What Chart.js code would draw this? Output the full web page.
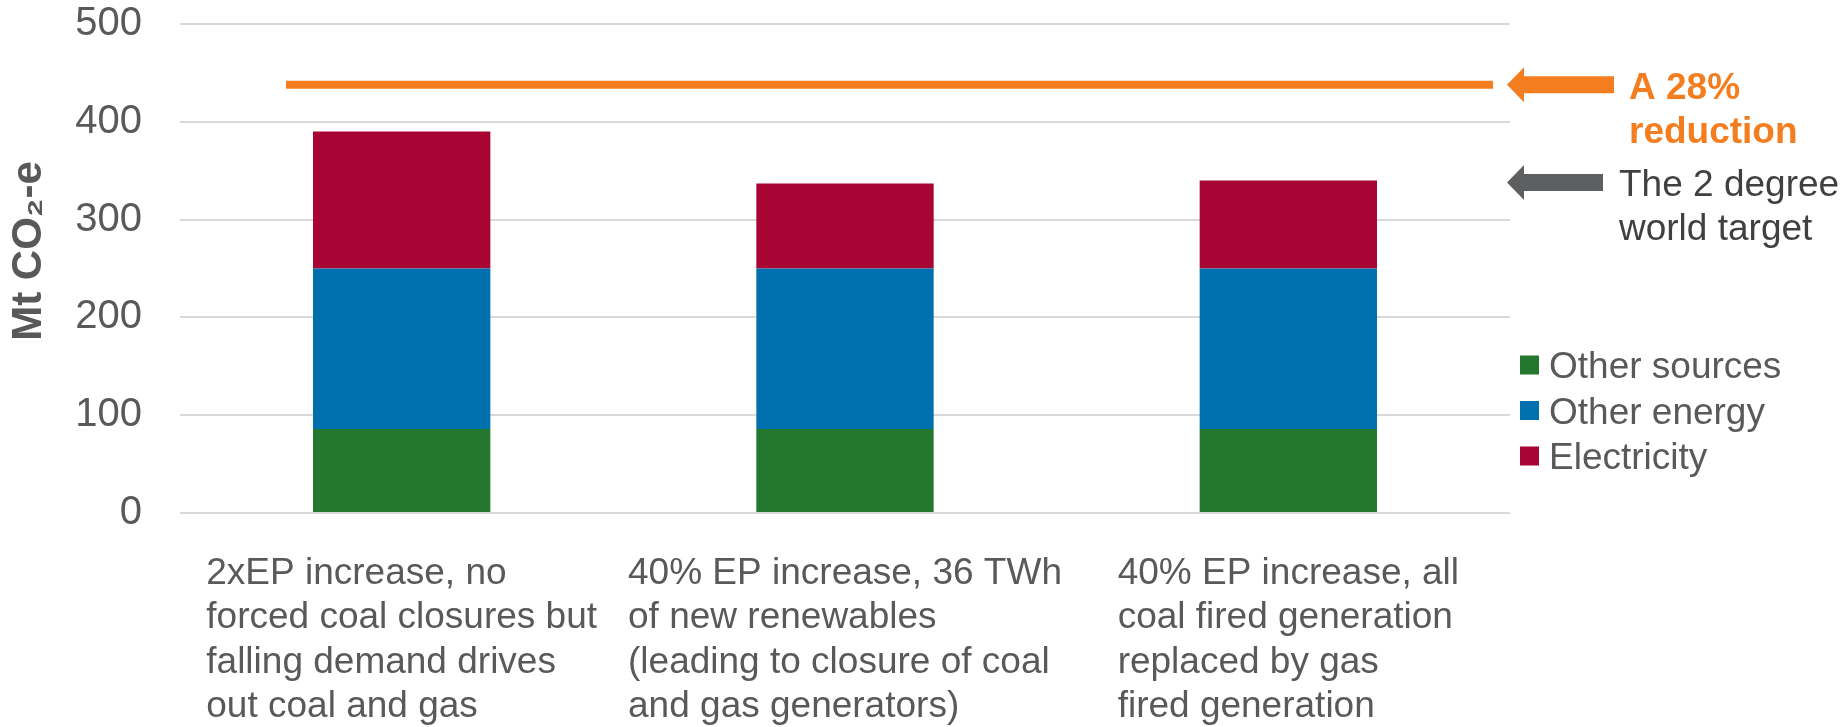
<!DOCTYPE html>
<html>
<head>
<meta charset="utf-8">
<script src="https://cdn.jsdelivr.net/npm/chart.js@4.4.1/dist/chart.umd.min.js"></script>
<style>
  html, body { margin: 0; padding: 0; background: #ffffff; }
  #wrap { width: 1845px; height: 727px; position: relative; }
</style>
</head>
<body>
<div id="wrap"><canvas id="c" width="1845" height="727"></canvas></div>
<script>
// ---- DATA ----
const categories = [
  ["2xEP increase, no", "forced coal closures but", "falling demand drives", "out coal and gas"],
  ["40% EP increase, 36 TWh", "of new renewables", "(leading to closure of coal", "and gas generators)"],
  ["40% EP increase, all", "coal fired generation", "replaced by gas", "fired generation"]
];
const otherSources = [86, 86, 86];
const otherEnergy  = [164, 164, 164];
const electricity  = [140, 87, 90];
const seriesNames  = ["Other sources", "Other energy", "Electricity"];
const yTicks       = [0, 100, 200, 300, 400, 500];
const reductionTarget = 438;   // "A 28% reduction" line
const twoDegreeTarget = 338;   // "The 2 degree world target"
const reductionLabel = ["A 28%", "reduction"];
const twoDegreeLabel = ["The 2 degree", "world target"];
const yTitle = "Mt CO\u2082-e";

// ---- STYLE ----
const FONT = '"Liberation Sans", Arial, Helvetica, sans-serif';
const GREY_TEXT = '#595959';
const DARK_TEXT = '#404040';
const ORANGE = '#F47D20';
const ARROW_GREY = '#5E5F61';
const colors = ['#23772E', '#0070AF', '#A80534'];

function drawArrow(ctx, tipX, cy, tailX, shaftH, headH, headLen, color) {
  ctx.save();
  ctx.fillStyle = color;
  ctx.beginPath();
  ctx.moveTo(tipX, cy);
  ctx.lineTo(tipX + headLen, cy - headH / 2);
  ctx.lineTo(tipX + headLen, cy - shaftH / 2);
  ctx.lineTo(tailX, cy - shaftH / 2);
  ctx.lineTo(tailX, cy + shaftH / 2);
  ctx.lineTo(tipX + headLen, cy + shaftH / 2);
  ctx.lineTo(tipX + headLen, cy + headH / 2);
  ctx.closePath();
  ctx.fill();
  ctx.restore();
}

const annotations = {
  id: 'annotations',
  afterDatasetsDraw(chart) {
    const { ctx, chartArea, scales: { x, y } } = chart;
    ctx.save();

    // reduction line
    const yr = y.getPixelForValue(reductionTarget);
    ctx.strokeStyle = ORANGE;
    ctx.lineWidth = 8;
    ctx.beginPath();
    ctx.moveTo(chartArea.left + 106, yr);
    ctx.lineTo(chartArea.right - 17, yr);
    ctx.stroke();

    // arrows
    const tip = chartArea.right - 3;
    drawArrow(ctx, tip, yr, tip + 107, 17, 35, 17, ORANGE);
    const yt = y.getPixelForValue(twoDegreeTarget);
    drawArrow(ctx, tip, yt, tip + 96, 17, 35, 17, ARROW_GREY);

    // arrow texts
    ctx.textAlign = 'left';
    ctx.textBaseline = 'alphabetic';
    ctx.font = 'bold 37px ' + FONT;
    ctx.fillStyle = ORANGE;
    reductionLabel.forEach((t, i) => ctx.fillText(t, tip + 122, yr + 14 + i * 44.5));
    ctx.font = '37px ' + FONT;
    ctx.fillStyle = DARK_TEXT;
    twoDegreeLabel.forEach((t, i) => ctx.fillText(t, tip + 112, yt + 14 + i * 43.5));

    // category labels (left-aligned lines, block centred on category)
    ctx.fillStyle = GREY_TEXT;
    ctx.font = '37px ' + FONT;
    chart.data.labels.forEach((lines, i) => {
      const cx = x.getPixelForValue(i);
      const w = Math.max(...lines.map(l => ctx.measureText(l).width));
      lines.forEach((l, j) => ctx.fillText(l, cx - w / 2, chartArea.bottom + 71 + j * 44.3));
    });

    // legend
    const lx = chartArea.right + 10;
    chart.data.datasets.forEach((ds, i) => {
      const cy = 365 + i * 45.5;
      ctx.fillStyle = ds.backgroundColor;
      ctx.fillRect(lx, cy - 9.5, 19, 19);
      ctx.fillStyle = GREY_TEXT;
      ctx.fillText(ds.label, lx + 29, cy + 13);
    });

    ctx.restore();
  }
};

new Chart(document.getElementById('c'), {
  type: 'bar',
  data: {
    labels: categories,
    datasets: [
      { label: seriesNames[0], data: otherSources, backgroundColor: colors[0] },
      { label: seriesNames[1], data: otherEnergy,  backgroundColor: colors[1] },
      { label: seriesNames[2], data: electricity,  backgroundColor: colors[2] }
    ]
  },
  options: {
    responsive: false,
    animation: false,
    devicePixelRatio: 1,
    layout: { padding: { left: 0, right: 335, top: 0, bottom: 0 } },
    datasets: { bar: { categoryPercentage: 1.0, barPercentage: 0.4, borderWidth: 0 } },
    plugins: { legend: { display: false }, tooltip: { enabled: false } },
    scales: {
      x: {
        stacked: true,
        grid: { display: false },
        border: { display: false },
        ticks: { display: false },
        afterFit(scale) { scale.height = 214; }
      },
      y: {
        stacked: true,
        min: 0, max: 500,
        afterBuildTicks(scale) { scale.ticks = yTicks.map(v => ({ value: v })); },
        grid: { color: '#D9D9D9', lineWidth: 2, drawTicks: true, tickLength: 38, tickColor: 'rgba(0,0,0,0)' },
        border: { display: false },
        ticks: { font: { family: FONT, size: 40 }, color: GREY_TEXT, padding: 0 },
        title: {
          display: true,
          text: '   ' + yTitle,
          font: { family: FONT, size: 42, weight: 'bold' },
          color: GREY_TEXT
        },
        afterFit(scale) { scale.width = 180; }
      }
    }
  },
  plugins: [annotations]
});
</script>
</body>
</html>
